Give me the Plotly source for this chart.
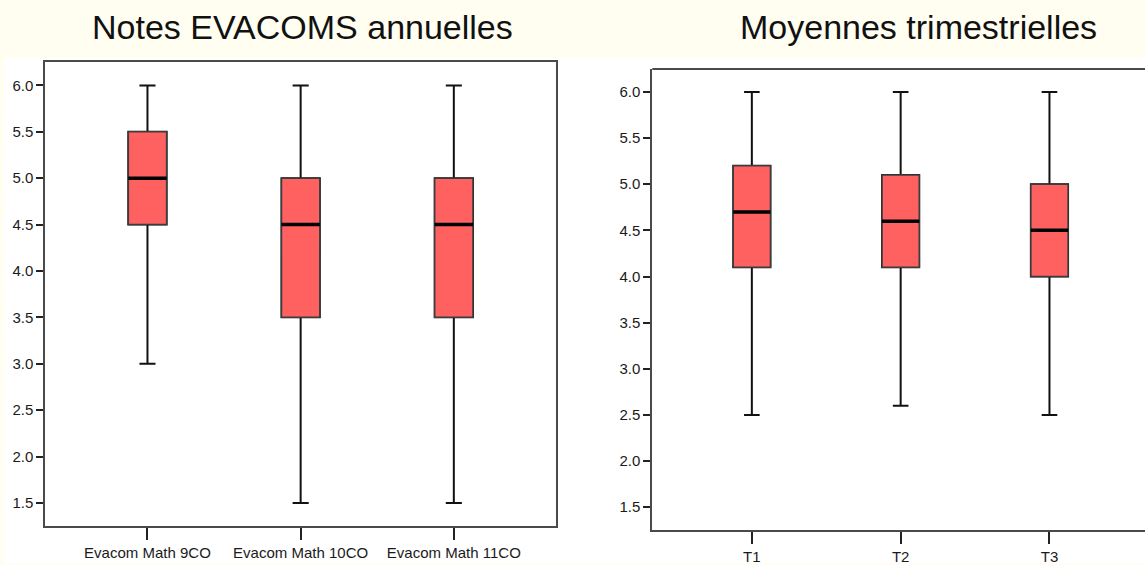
import plotly.graph_objects as go

# ---- data ----
left_cats = ["Evacom Math 9CO", "Evacom Math 10CO", "Evacom Math 11CO"]
left_low = [3.0, 1.5, 1.5]
left_q1 = [4.5, 3.5, 3.5]
left_med = [5.0, 4.5, 4.5]
left_q3 = [5.5, 5.0, 5.0]
left_high = [6.0, 6.0, 6.0]

right_cats = ["T1", "T2", "T3"]
right_low = [2.5, 2.6, 2.5]
right_q1 = [4.1, 4.1, 4.0]
right_med = [4.7, 4.6, 4.5]
right_q3 = [5.2, 5.1, 5.0]
right_high = [6.0, 6.0, 6.0]

y_ticks = [1.5, 2.0, 2.5, 3.0, 3.5, 4.0, 4.5, 5.0, 5.5, 6.0]
y_ticktext = ["1.5", "2.0", "2.5", "3.0", "3.5", "4.0", "4.5", "5.0", "5.5", "6.0"]

titles = ["Notes EVACOMS annuelles", "Moyennes trimestrielles"]

FILL = "#FF6161"
W = 1145
H = 565
TICKFONT = dict(family="Liberation Sans Narrow, Arial Narrow, Liberation Sans, Arial", size=15, color="#1a1a1a")

fig = go.Figure()


def add_boxes(cats, low, q1, med, q3, high, xa, ya):
    # whiskers + caps
    fig.add_trace(go.Box(
        x=cats, q1=q1, median=med, q3=q3, lowerfence=low, upperfence=high,
        xaxis=xa, yaxis=ya, width=0.25, whiskerwidth=0.42,
        fillcolor=FILL, line=dict(color="#111111", width=2),
        boxpoints=False, showlegend=False, hoverinfo="skip",
    ))
    # box body with thinner grey outline
    fig.add_trace(go.Box(
        x=cats, q1=q1, median=med, q3=q3, lowerfence=q1, upperfence=q3,
        xaxis=xa, yaxis=ya, width=0.25, whiskerwidth=0,
        fillcolor=FILL, line=dict(color="#3c3c3c", width=1.5),
        boxpoints=False, showlegend=False, hoverinfo="skip",
    ))
    # thicker median line
    fig.add_trace(go.Box(
        x=cats, q1=med, median=med, q3=med, lowerfence=med, upperfence=med,
        xaxis=xa, yaxis=ya, width=0.25, whiskerwidth=0,
        fillcolor="rgba(0,0,0,0)", line=dict(color="#000000", width=3.5),
        boxpoints=False, showlegend=False, hoverinfo="skip",
    ))


add_boxes(left_cats, left_low, left_q1, left_med, left_q3, left_high, "x", "y")
add_boxes(right_cats, right_low, right_q1, right_med, right_q3, right_high, "x2", "y2")

axis_common = dict(showgrid=False, zeroline=False, showline=True, linecolor="#4a4a4a",
                   linewidth=2, ticks="outside", tickcolor="#222222", tickwidth=2,
                   tickfont=TICKFONT)

fig.update_layout(
    width=W, height=H,
    margin=dict(l=0, r=0, t=0, b=0),
    paper_bgcolor="#FFFEF1",
    plot_bgcolor="white",
    boxmode="overlay",
    xaxis=dict(domain=[45.3 / W, 556 / W], range=[-0.667, 2.667], mirror=True,
               ticklen=12, anchor="y", **axis_common),
    yaxis=dict(domain=[(H - 528) / H, (H - 62.7) / H], range=[1.25, 6.247], mirror=True,
               tickvals=y_ticks, ticktext=y_ticktext, ticklen=7, anchor="x", **axis_common),
    xaxis2=dict(domain=[652.3 / W, 1.0], range=[-0.669, 2.642], mirror=False,
                ticklen=12, anchor="y2", **axis_common),
    yaxis2=dict(domain=[(H - 531.7) / H, (H - 69.3) / H], range=[1.255, 6.248], mirror=False,
                tickvals=y_ticks, ticktext=y_ticktext, ticklen=7, anchor="x2", **axis_common),
    shapes=[
        dict(type="rect", xref="paper", yref="paper", x0=4 / W, x1=1, y0=0, y1=(H - 58) / H,
             fillcolor="white", line=dict(width=0), layer="below"),
        # top frame line of right panel
        dict(type="line", xref="x2 domain", yref="y2 domain", x0=0, x1=1, y0=1, y1=1,
             line=dict(color="#4a4a4a", width=2)),
    ],
    annotations=[
        dict(text=titles[0], xref="paper", yref="paper", x=302 / W, y=(H - 27) / H,
             xanchor="center", yanchor="middle", showarrow=False,
             font=dict(family="Liberation Sans, Arial", size=34, color="#111111")),
        dict(text=titles[1], xref="paper", yref="paper", x=918.5 / W, y=(H - 27) / H,
             xanchor="center", yanchor="middle", showarrow=False,
             font=dict(family="Liberation Sans, Arial", size=34, color="#111111")),
    ],
)

fig.write_html("out.html")
